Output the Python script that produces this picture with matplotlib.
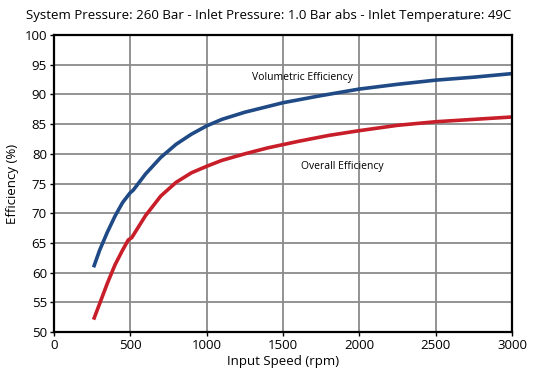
import matplotlib
matplotlib.use("Agg")
import matplotlib.pyplot as plt

speed_vol = [260, 300, 350, 400, 450, 498, 520, 600, 700, 800, 900, 1000, 1100, 1250, 1500, 1750, 2000, 2250, 2500, 2750, 3000]
vol_eff = [60.9, 63.8, 66.8, 69.5, 71.8, 73.4, 73.9, 76.6, 79.4, 81.6, 83.3, 84.7, 85.8, 87.0, 88.6, 89.8, 90.9, 91.7, 92.4, 92.9, 93.5]

speed_ovr = [260, 300, 350, 400, 450, 487, 510, 600, 700, 800, 900, 1000, 1100, 1250, 1400, 1600, 1800, 2000, 2250, 2500, 2750, 3000]
ovr_eff = [52.1, 54.8, 58.2, 61.3, 63.8, 65.5, 65.9, 69.6, 72.9, 75.2, 76.8, 77.9, 78.9, 80.0, 81.0, 82.1, 83.1, 83.9, 84.8, 85.4, 85.8, 86.2]

title = "System Pressure: 260 Bar - Inlet Pressure: 1.0 Bar abs - Inlet Temperature: 49C"
xticks = [0, 500, 1000, 1500, 2000, 2500, 3000]
yticks = [50, 55, 60, 65, 70, 75, 80, 85, 90, 95, 100]

plt.rcParams['font.family'] = ['Open Sans', 'DejaVu Sans']
fig = plt.figure(figsize=(5.33, 3.8), dpi=100)
ax = fig.add_axes([0.101, 0.126, 0.860, 0.782])

ax.plot(speed_vol, vol_eff, color='#1f4a85', lw=2.6, solid_capstyle='butt', solid_joinstyle='round')
ax.plot(speed_ovr, ovr_eff, color='#c81e2a', lw=2.6, solid_capstyle='butt', solid_joinstyle='round')

ax.set_xlim(0, 3000)
ax.set_ylim(50, 100)
ax.set_xticks(xticks)
ax.set_yticks(yticks)
ax.tick_params(labelsize=9.5, length=3, width=1, pad=2)
ax.grid(True, color='#8a8a8a', lw=1.3)
ax.set_axisbelow(True)
for s in ax.spines.values():
    s.set_linewidth(1.6)
    s.set_color('black')

ax.set_xlabel("Input Speed (rpm)", fontsize=9.5, labelpad=2)
ax.set_ylabel("Efficiency (%)", fontsize=9.5, labelpad=4)
fig.text(0.505, 0.958, title, ha='center', va='center', fontsize=9.5)

ax.text(1300, 92.8, "Volumetric Efficiency", fontsize=7.5, va='center', ha='left')
ax.text(1620, 77.8, "Overall Efficiency", fontsize=7.5, va='center', ha='left')

fig.savefig("out.png", dpi=100)
